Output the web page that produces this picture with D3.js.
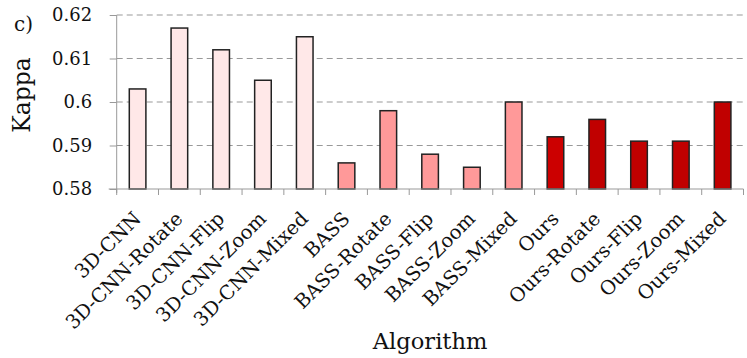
<!DOCTYPE html>
<html><head><meta charset="utf-8">
<script src="https://cdn.jsdelivr.net/npm/d3@7"></script>
<style>body{margin:0;background:#fff}svg{display:block}text{font-family:"DejaVu Serif",serif;fill:#111}</style>
</head><body>
<svg id="c" width="747" height="358"></svg>
<script>
const categories = ["3D-CNN","3D-CNN-Rotate","3D-CNN-Flip","3D-CNN-Zoom","3D-CNN-Mixed","BASS","BASS-Rotate","BASS-Flip","BASS-Zoom","BASS-Mixed","Ours","Ours-Rotate","Ours-Flip","Ours-Zoom","Ours-Mixed"];
const kappa = [0.603,0.617,0.612,0.605,0.615,0.586,0.598,0.588,0.585,0.600,0.592,0.596,0.591,0.591,0.600];
const groups = ["3D-CNN","3D-CNN","3D-CNN","3D-CNN","3D-CNN","BASS","BASS","BASS","BASS","BASS","Ours","Ours2","Ours2","Ours2","Ours2"];
const groupColors = {"3D-CNN":"#ffe8e8","BASS":"#ff9999","Ours":"#cc0000","Ours2":"#c00000"};
const yTicks = [0.58,0.59,0.6,0.61,0.62];
const yLabels = ["0.58","0.59","0.6","0.61","0.62"];

const svg = d3.select("#c");
const x0 = 116.7, x1 = 743.5, yTop = 15, yBot = 189;
const xb = d3.scaleBand().domain(categories).range([x0, x1]);
const y = d3.scaleLinear().domain([0.58, 0.62]).range([yBot, yTop]);

// gridlines
svg.append("g").selectAll("line").data(yTicks.slice(1)).join("line")
  .attr("x1", x0).attr("x2", x1).attr("y1", d => y(d)).attr("y2", d => y(d))
  .attr("stroke", "#999").attr("stroke-width", 1.2).attr("stroke-dasharray", "6,4");

// bars
svg.append("g").selectAll("rect").data(categories).join("rect")
  .attr("x", d => xb(d) + xb.bandwidth()/2 - 8.3)
  .attr("width", 16.6)
  .attr("y", (d, i) => y(kappa[i]))
  .attr("height", (d, i) => y(0.58) - y(kappa[i]))
  .attr("fill", (d, i) => groupColors[groups[i]])
  .attr("stroke", "#222").attr("stroke-width", 1.5);

// y axis
const ya = svg.append("g").attr("transform", `translate(${x0},0)`)
  .call(d3.axisLeft(y).tickValues(yTicks).tickFormat((d, i) => yLabels[i]).tickSize(7).tickPadding(17.5));
ya.select(".domain").attr("stroke", "#999").attr("d", `M0,${yTop}V${yBot+4}`);
ya.selectAll(".tick line").attr("stroke", "#999");
ya.selectAll(".tick text").attr("font-size", 18).attr("font-family", "DejaVu Serif").attr("fill", "#111");

// x axis
const xa = svg.append("g").attr("transform", `translate(0,${yBot})`)
  .call(d3.axisBottom(xb).tickValues([]).tickSize(0));
xa.select(".domain").attr("stroke", "#999").attr("d", `M${x0-8},0H${x1}`);
xa.selectAll(".sep").data(d3.range(categories.length)).join("line")
  .attr("x1", i => xb(categories[i]) + xb.bandwidth()).attr("x2", i => xb(categories[i]) + xb.bandwidth())
  .attr("y1", 0).attr("y2", 6).attr("stroke", "#999");
xa.append("line").attr("x1", x0).attr("x2", x0).attr("y1", 0).attr("y2", 6).attr("stroke", "#999");

// rotated tick labels
svg.append("g").selectAll("text").data(categories).join("text")
  .attr("transform", d => `translate(${xb(d) + xb.bandwidth()/2 + 4.5},220) rotate(-45)`)
  .attr("text-anchor", "end").attr("font-size", 19.5)
  .text(d => d);

// axis titles
svg.append("text").attr("transform", `translate(29.5,95) rotate(-90)`)
  .attr("text-anchor", "middle").attr("font-size", 23.5).text("Kappa");
svg.append("text").attr("x", (x0 + x1)/2).attr("y", 349).attr("text-anchor", "middle").attr("font-size", 22.6).text("Algorithm");
svg.append("text").attr("x", 14).attr("y", 31).attr("font-size", 20).text("c)");
</script>
</body></html>
